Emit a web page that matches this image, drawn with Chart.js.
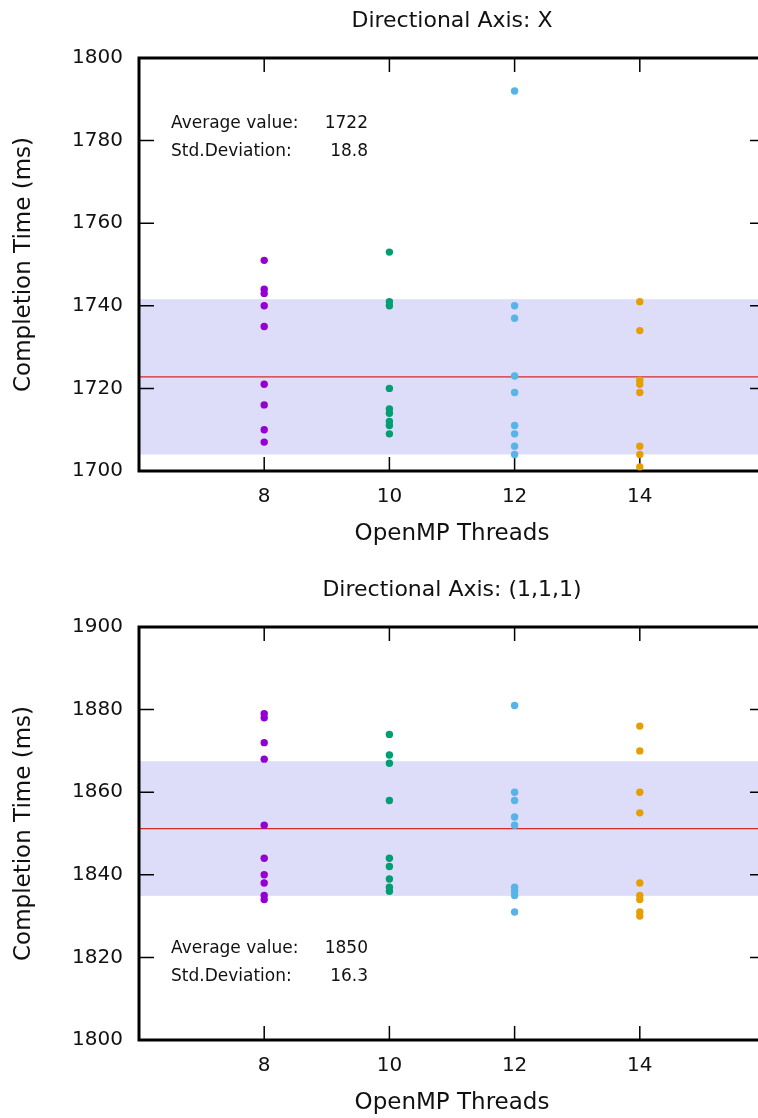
<!DOCTYPE html>
<html>
<head>
<meta charset="utf-8">
<script src="https://cdn.jsdelivr.net/npm/chart.js@4.4.1/dist/chart.umd.min.js"></script>
<style>
  body { margin: 0; background: #fff; }
  .wrap { position: relative; width: 758px; height: 1118px; overflow: hidden; }
  canvas { position: absolute; left: 0; }
</style>
</head>
<body>
<div class="wrap">
  <canvas id="chartX" width="769" height="569" style="top:0"></canvas>
  <canvas id="chartD" width="769" height="569" style="top:569px"></canvas>
</div>
<script>
const threads = [8, 10, 12, 14]
const colors = ['#9400d3', '#009e73', '#56b4e9', '#e69f00']

// Directional Axis: X
const xTimes8 = [1751, 1744, 1743, 1740, 1735, 1721, 1716, 1710, 1707]
const xTimes10 = [1753, 1741, 1740, 1720, 1715, 1714, 1712, 1711, 1709]
const xTimes12 = [1792, 1740, 1737, 1723, 1719, 1711, 1709, 1706, 1704]
const xTimes14 = [1741, 1734, 1722, 1721, 1719, 1706, 1704, 1701]
const xMean = 1722.8
const xStd = 18.8
const xLabels = ['1722', '18.8']
const xTicks = [1700, 1720, 1740, 1760, 1780, 1800]

// Directional Axis: (1,1,1)
const dTimes8 = [1879, 1878, 1872, 1868, 1852, 1844, 1840, 1838, 1835, 1834]
const dTimes10 = [1874, 1869, 1867, 1858, 1844, 1842, 1839, 1837, 1836]
const dTimes12 = [1881, 1860, 1858, 1854, 1852, 1837, 1836, 1835, 1831]
const dTimes14 = [1876, 1870, 1860, 1855, 1838, 1835, 1834, 1831, 1830]
const dMean = 1851.2
const dStd = 16.3
const dLabels = ['1850', '16.3']
const dTicks = [1800, 1820, 1840, 1860, 1880, 1900]

const FONT = "'DejaVu Sans', sans-serif"

const statsPlugin = {
  id: 'stats',
  beforeDatasetsDraw(chart, args, opts) {
    const { ctx, chartArea: a, scales: { x, y } } = chart
    ctx.save()
    // band: mean +- std
    const top = y.getPixelForValue(opts.mean + opts.std)
    const bot = y.getPixelForValue(opts.mean - opts.std)
    ctx.fillStyle = 'rgb(221,221,250)'
    ctx.fillRect(a.left, top, a.right - a.left, bot - top)
    // mean line
    const m = y.getPixelForValue(opts.mean)
    ctx.strokeStyle = '#d42a2a'
    ctx.lineWidth = 1.2
    ctx.beginPath()
    ctx.moveTo(a.left, m)
    ctx.lineTo(a.right, m)
    ctx.stroke()
    // inward ticks
    ctx.strokeStyle = '#000'
    ctx.lineWidth = 1.5
    ctx.beginPath()
    threads.forEach(t => {
      const px = x.getPixelForValue(t)
      ctx.moveTo(px, a.bottom); ctx.lineTo(px, a.bottom - 14)
      ctx.moveTo(px, a.top); ctx.lineTo(px, a.top + 14)
    })
    opts.ticks.forEach(v => {
      const py = y.getPixelForValue(v)
      ctx.moveTo(a.left, py); ctx.lineTo(a.left + 15, py)
      ctx.moveTo(a.right, py); ctx.lineTo(a.right - 15, py)
    })
    ctx.stroke()
    // frame
    ctx.lineWidth = 3
    ctx.strokeRect(a.left, a.top, a.right - a.left, a.bottom - a.top)
    ctx.restore()
  },
  afterDraw(chart, args, opts) {
    const { ctx, chartArea: a } = chart
    ctx.save()
    ctx.fillStyle = '#111'
    ctx.font = '22px ' + FONT
    ctx.textAlign = 'center'
    ctx.textBaseline = 'middle'
    ctx.fillText(opts.title, (a.left + a.right) / 2, a.top - 37)
    ctx.font = '17px ' + FONT
    const ty = opts.textTop ? a.top + 66 : a.bottom - 91
    ctx.textAlign = 'left'
    ctx.fillText('Average value:', a.left + 32, ty)
    ctx.fillText('Std.Deviation:', a.left + 32, ty + 28)
    ctx.textAlign = 'right'
    ctx.fillText(opts.labels[0], a.left + 229, ty)
    ctx.fillText(opts.labels[1], a.left + 229, ty + 28)
    ctx.restore()
  }
}

const makeChart = (id, series, range, ticks, mean, std, labels, title, textTop) => {
  const datasets = series.map((vals, i) => ({
    label: threads[i] + ' threads',
    data: vals.map(v => ({ x: threads[i], y: v })),
    backgroundColor: colors[i],
    borderWidth: 0,
    pointRadius: 3.7,
  }))
  new Chart(document.getElementById(id), {
    type: 'scatter',
    data: { datasets: datasets },
    options: {
      responsive: false,
      animation: false,
      layout: { padding: { top: 58, left: 0, right: 0, bottom: 0 } },
      plugins: {
        legend: { display: false },
        tooltip: { enabled: false },
        stats: { mean: mean, std: std, labels: labels, ticks: ticks, title: title, textTop: textTop }
      },
      scales: {
        x: {
          type: 'linear',
          min: 6,
          max: 16,
          afterBuildTicks: (s) => { s.ticks = threads.map(v => ({ value: v })) },
          afterFit: (s) => { s.height = 98 },
          grid: { display: false, drawTicks: false },
          border: { display: false },
          ticks: { color: '#111', padding: 14, font: { family: FONT, size: 20 } },
          title: { display: true, text: 'OpenMP Threads', color: '#111', padding: { top: 0, bottom: 21 }, font: { family: FONT, size: 23 } }
        },
        y: {
          min: range[0],
          max: range[1],
          afterBuildTicks: (s) => { s.ticks = ticks.map(v => ({ value: v })) },
          afterFit: (s) => { s.width = 139 },
          grid: { display: false, drawTicks: false },
          border: { display: false },
          ticks: { color: '#111', padding: 16, font: { family: FONT, size: 20 }, callback: (v) => String(v) },
          title: { display: true, text: 'Completion Time (ms)', color: '#111', padding: { top: 10, bottom: 0 }, font: { family: FONT, size: 23 } }
        }
      }
    },
    plugins: [statsPlugin]
  })
}

makeChart('chartX', [xTimes8, xTimes10, xTimes12, xTimes14], [1700, 1800], xTicks, xMean, xStd, xLabels, 'Directional Axis: X', true)
makeChart('chartD', [dTimes8, dTimes10, dTimes12, dTimes14], [1800, 1900], dTicks, dMean, dStd, dLabels, 'Directional Axis: (1,1,1)', false)
</script>
</body>
</html>
